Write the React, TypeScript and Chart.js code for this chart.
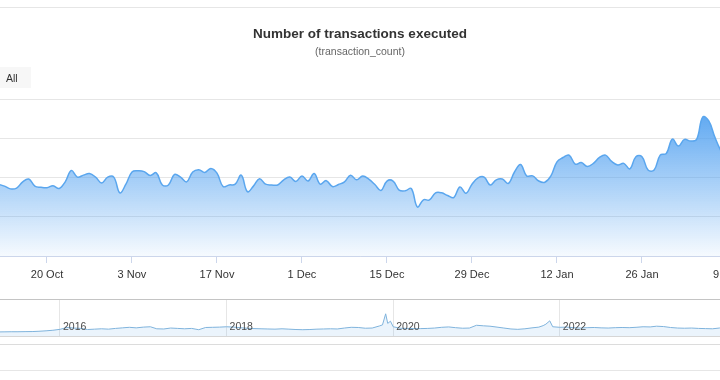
import React, { useEffect, useRef } from "react";
import { Chart, registerables } from "chart.js";

Chart.register(...registerables);

const TITLE = "Number of transactions executed";
const SUBTITLE = "(transaction_count)";
const BUTTON_LABEL = "All";
const FONT = "'Liberation Sans', Arial, sans-serif";

// Daily values (thousands) starting 2023-10-12
const mainStartDate = "2023-10-12";
const mainValues = [
  183, 178, 171, 173, 189, 196, 178, 175, 174, 179,
  172, 189, 218, 201, 206, 210, 201, 186, 201, 201,
  161, 183, 214, 217, 215, 205, 212, 181, 181, 208,
  201, 189, 214, 220, 213, 223, 211, 177, 181, 183,
  206, 164, 178, 197, 183, 181, 181, 194, 201, 190,
  204, 191, 210, 183, 192, 177, 182, 189, 206, 194,
  204, 196, 182, 167, 191, 191, 168, 166, 172, 125,
  143, 143, 161, 161, 154, 149, 176, 160, 183, 199,
  201, 181, 194, 196, 185, 214, 233, 204, 204, 191,
  188, 204, 240, 251, 257, 234, 238, 228, 236, 251,
  257, 241, 232, 236, 222, 253, 253, 219, 219, 257,
  261, 298, 280, 297, 293, 297, 354, 344, 303, 268,
  245,
];
const viewStartDate = "2023-10-12";
const viewEndDate = "2024-02-08";
const tickDates = [
  "2023-10-20", "2023-11-03", "2023-11-17", "2023-12-01", "2023-12-15",
  "2023-12-29", "2024-01-12", "2024-01-26", "2024-02-09",
];
const tickLabels = ["20 Oct", "3 Nov", "17 Nov", "1 Dec", "15 Dec", "29 Dec", "12 Jan", "26 Jan", "9 Feb"];
const yTicks = [0, 100, 200, 300, 400];

// Navigator (full history, thousands)
const navDates = [
  "2015-04-01", "2015-05-01", "2015-06-01", "2015-07-01", "2015-08-01", "2015-09-01", "2015-10-01", "2015-11-01", "2015-12-01",
  "2016-01-01", "2016-02-01", "2016-03-01", "2016-04-01", "2016-05-01", "2016-06-01", "2016-07-01", "2016-08-01", "2016-09-01", "2016-10-01", "2016-11-01", "2016-12-01",
  "2017-01-01", "2017-02-01", "2017-03-01", "2017-04-01", "2017-05-01", "2017-06-01", "2017-07-01", "2017-08-01", "2017-09-01", "2017-10-01", "2017-11-01", "2017-12-01",
  "2018-01-01", "2018-02-01", "2018-03-01", "2018-04-01", "2018-05-01", "2018-06-01", "2018-07-01", "2018-08-01", "2018-09-01", "2018-10-01", "2018-11-01", "2018-12-01",
  "2019-01-01", "2019-02-01", "2019-03-01", "2019-04-01", "2019-05-01", "2019-06-01", "2019-07-01", "2019-08-01", "2019-09-01", "2019-10-01", "2019-11-01", "2019-11-15", "2019-11-29", "2019-12-08", "2019-12-20",
  "2020-01-01", "2020-02-01", "2020-03-01", "2020-04-01", "2020-05-01", "2020-06-01", "2020-07-01", "2020-08-01", "2020-09-01", "2020-10-01", "2020-11-01", "2020-12-01",
  "2021-01-01", "2021-02-01", "2021-03-01", "2021-04-01", "2021-05-01", "2021-06-01", "2021-07-01", "2021-08-01", "2021-09-01", "2021-10-01", "2021-10-20", "2021-11-01", "2021-11-18", "2021-12-01",
  "2022-01-01", "2022-02-01", "2022-03-01", "2022-04-01", "2022-05-01", "2022-06-01", "2022-07-01", "2022-08-01", "2022-09-01", "2022-10-01", "2022-11-01", "2022-12-01",
  "2023-01-01", "2023-02-01", "2023-03-01", "2023-04-01", "2023-05-01", "2023-06-01", "2023-07-01", "2023-08-01", "2023-09-01", "2023-10-01", "2023-11-01", "2023-12-01",
  "2024-01-01", "2024-02-01",
];
const navValues = [
  110, 112, 115, 115, 118, 120, 128, 140, 155,
  180, 230, 215, 205, 175, 185, 195, 185, 205, 220, 235, 220,
  240, 250, 195, 190, 215, 205, 195, 205, 170, 230, 235, 240,
  250, 240, 225, 210, 200, 195, 190, 185, 195, 185, 175, 170,
  175, 185, 190, 195, 190, 215, 235, 230, 210, 215, 270, 300, 600, 340, 400,
  250, 210, 205, 200, 200, 205, 215, 235, 245, 225, 210, 215,
  290, 275, 265, 240, 215, 190, 180, 195, 220, 240, 280, 320, 410, 250,
  235, 240, 225, 215, 225, 230, 220, 215, 225, 230, 225, 235,
  250, 245, 265, 255, 230, 215, 210, 215, 205, 200, 195, 215,
  260, 290,
];
const navViewStart = 2015.28;
const navViewEnd = 2023.923;
const navTickYears = [2016, 2018, 2020, 2022, 2024];

const DAY = 86400000;
const dayNum = (s: string) => Date.parse(s + "T00:00:00Z") / DAY;
const yearFrac = (s: string) => {
  const t = Date.parse(s + "T00:00:00Z");
  const y = new Date(t).getUTCFullYear();
  const a = Date.UTC(y, 0, 1);
  const b = Date.UTC(y + 1, 0, 1);
  return y + (t - a) / (b - a);
};

const mainDecor = {
  id: "mainDecor",
  afterDraw(chart: any) {
    const ctx = chart.ctx;
    ctx.save();
    ctx.strokeStyle = "#e6e6e6";
    ctx.lineWidth = 1;
    ctx.beginPath();
    ctx.moveTo(0, 7.5);
    ctx.lineTo(chart.width, 7.5);
    ctx.stroke();
    ctx.textAlign = "center";
    ctx.textBaseline = "middle";
    ctx.fillStyle = "#333333";
    ctx.font = "bold 13.5px " + FONT;
    ctx.fillText(TITLE, chart.width / 2, 34);
    ctx.fillStyle = "#666666";
    ctx.font = "10.5px " + FONT;
    ctx.fillText(SUBTITLE, chart.width / 2, 52);
    ctx.fillStyle = "#f7f7f7";
    ctx.fillRect(0, 67, 31, 21);
    ctx.fillStyle = "#333333";
    ctx.textAlign = "left";
    ctx.font = "10.5px " + FONT;
    ctx.fillText(BUTTON_LABEL, 6, 79);
    ctx.restore();
  },
};

const navDecor = {
  id: "navDecor",
  afterDraw(chart: any) {
    const ctx = chart.ctx;
    const xs = chart.scales.x;
    const ca = chart.chartArea;
    ctx.save();
    ctx.fillStyle = "#4d4d4d";
    ctx.font = "10.5px " + FONT;
    ctx.textAlign = "left";
    ctx.textBaseline = "middle";
    navTickYears.forEach((yr) => {
      ctx.fillText(String(yr), xs.getPixelForValue(yr) + 3, ca.bottom - 9);
    });
    const line = (y: number, c: string) => {
      ctx.strokeStyle = c;
      ctx.lineWidth = 1;
      ctx.beginPath();
      ctx.moveTo(0, y);
      ctx.lineTo(chart.width, y);
      ctx.stroke();
    };
    line(Math.round(ca.top) + 0.5, "#c4c4c4");
    line(Math.round(ca.bottom) + 0.5, "#d6d6d6");
    line(Math.round(ca.bottom) + 8.5, "#dcdcdc");
    line(Math.round(ca.bottom) + 34.5, "#e6e6e6");
    ctx.restore();
  },
};

export default function App() {
  const mainRef = useRef<HTMLCanvasElement>(null);
  const navRef = useRef<HTMLCanvasElement>(null);

  useEffect(() => {
    const start = dayNum(mainStartDate);
    const mainPoints = mainValues.map((v, i) => ({ x: start + i, y: v }));
    const main = new Chart(mainRef.current!, {
      type: "line",
      data: {
        datasets: [
          {
            data: mainPoints,
            borderColor: "#5aa6ee",
            borderWidth: 1.5,
            pointRadius: 0,
            tension: 0.4,
            fill: "origin",
            backgroundColor: (c: any) => {
              const ca = c.chart.chartArea;
              if (!ca) return "rgba(80,160,240,0.5)";
              const g = c.chart.ctx.createLinearGradient(0, ca.top, 0, ca.bottom);
              g.addColorStop(0, "rgba(80,160,240,1)");
              g.addColorStop(1, "rgba(80,160,240,0.05)");
              return g;
            },
          } as any,
        ],
      },
      options: {
        animation: false,
        responsive: false,
        maintainAspectRatio: false,
        layout: { padding: { top: 99, left: 0, right: 0, bottom: 0 } },
        plugins: { legend: { display: false }, tooltip: { enabled: false }, title: { display: false } },
        scales: {
          x: {
            type: "linear",
            min: dayNum(viewStartDate) + 0.26,
            max: dayNum(viewEndDate) - 0.15,
            afterBuildTicks: (s: any) => {
              s.ticks = tickDates.map((d) => ({ value: dayNum(d) }));
            },
            afterFit: (s: any) => {
              s.height = 34;
              s.paddingLeft = 0;
              s.paddingRight = 0;
            },
            ticks: {
              autoSkip: false,
              maxRotation: 0,
              padding: 5,
              color: "#333333",
              font: { family: FONT, size: 11 },
              callback: (_v: any, i: number) => tickLabels[i],
            },
            grid: { drawOnChartArea: false, drawTicks: true, tickLength: 7, color: "#ccd6eb" },
            border: { color: "#ccd6eb" },
          },
          y: {
            min: 0,
            max: 400,
            afterBuildTicks: (s: any) => {
              s.ticks = yTicks.map((v) => ({ value: v }));
            },
            afterFit: (s: any) => {
              s.width = 0;
              s.paddingTop = 0;
              s.paddingBottom = 0;
            },
            ticks: { display: false },
            grid: { color: "#e6e6e6", drawTicks: false },
            border: { display: false },
          },
        },
      } as any,
      plugins: [mainDecor],
    });

    const navPoints = navValues.map((v, i) => ({ x: yearFrac(navDates[i]), y: v }));
    const nav = new Chart(navRef.current!, {
      type: "line",
      data: {
        datasets: [
          {
            data: navPoints,
            borderColor: "#7fb3dc",
            borderWidth: 1,
            pointRadius: 0,
            tension: 0,
            fill: "origin",
            backgroundColor: "rgba(124,181,236,0.15)",
          } as any,
        ],
      },
      options: {
        animation: false,
        responsive: false,
        maintainAspectRatio: false,
        layout: { padding: { top: 9, left: 0, right: 0, bottom: 0 } },
        plugins: { legend: { display: false }, tooltip: { enabled: false } },
        scales: {
          x: {
            type: "linear",
            min: navViewStart,
            max: navViewEnd,
            afterBuildTicks: (s: any) => {
              s.ticks = navTickYears.map((v) => ({ value: v }));
            },
            afterFit: (s: any) => {
              s.height = 44;
              s.paddingLeft = 0;
              s.paddingRight = 0;
            },
            ticks: { display: false },
            grid: { color: "#e6e6e6", drawTicks: false },
            border: { display: false },
          },
          y: { display: false, min: 0, max: 1000 },
        },
      } as any,
      plugins: [navDecor],
    });

    return () => {
      main.destroy();
      nav.destroy();
    };
  }, []);

  return (
    <div style={{ position: "fixed", left: 0, top: 0, width: 720, height: 380, background: "#ffffff", overflow: "hidden" }}>
      <canvas ref={mainRef} width={720} height={290} style={{ position: "absolute", left: 0, top: 0, display: "block" }} />
      <canvas ref={navRef} width={720} height={90} style={{ position: "absolute", left: 0, top: 290, display: "block" }} />
    </div>
  );
}
